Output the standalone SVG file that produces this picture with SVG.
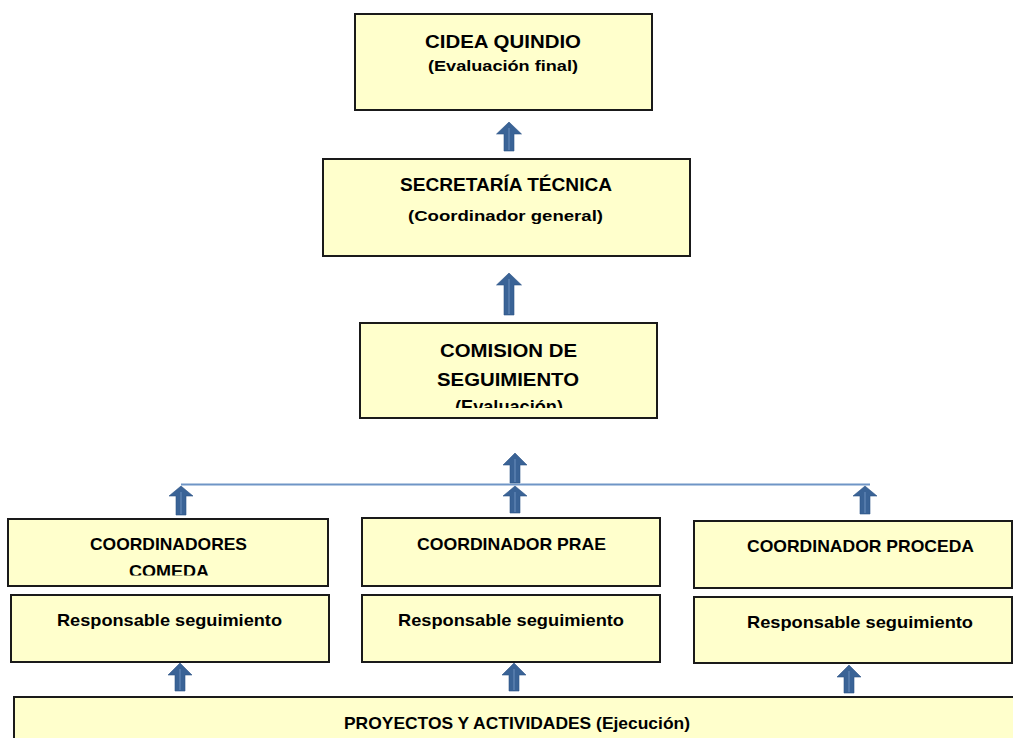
<svg xmlns="http://www.w3.org/2000/svg" width="1013" height="738" viewBox="0 0 1013 738">
<style>
.box{fill:#FFFFCC;stroke:#1a1a1a;stroke-width:2}
.t{font-family:"Liberation Sans",Arial,sans-serif;font-weight:bold;fill:#000;text-anchor:middle}
.arr{fill:#3A6396;stroke:#2E5486;stroke-width:0.6}
.mid{stroke:#7A9CC8;stroke-width:0.8}
.link{stroke:#6F95C6;stroke-width:2;fill:none}
</style>
<defs>
<clipPath id="clipCom"><rect x="360" y="323" width="297" height="85"/></clipPath>
<clipPath id="clipComeda"><rect x="8" y="519" width="320" height="56.5"/></clipPath>
</defs>
<rect width="1013" height="738" fill="#fff"/>
<g id="cidea">
<rect class="box" x="355" y="14" width="297" height="96"/>
<text class="t" x="503" y="48" font-size="17.5" textLength="156" lengthAdjust="spacingAndGlyphs">CIDEA QUINDIO</text>
<text class="t" x="503" y="71" font-size="15.5" textLength="150" lengthAdjust="spacingAndGlyphs">(Evaluación final)</text>
</g>
<g id="secretaria">
<rect class="box" x="323" y="159" width="367" height="97"/>
<text class="t" x="506" y="191" font-size="17.5" textLength="212" lengthAdjust="spacingAndGlyphs">SECRETARÍA TÉCNICA</text>
<text class="t" x="505.5" y="221" font-size="15.5" textLength="195" lengthAdjust="spacingAndGlyphs">(Coordinador general)</text>
</g>
<g id="comision">
<rect class="box" x="360" y="323" width="297" height="95"/>
<g clip-path="url(#clipCom)">
<text class="t" x="508.5" y="357" font-size="18.5" textLength="137" lengthAdjust="spacingAndGlyphs">COMISION DE</text>
<text class="t" x="508" y="386" font-size="18.5" textLength="142" lengthAdjust="spacingAndGlyphs">SEGUIMIENTO</text>
<text class="t" x="509" y="413" font-size="18.5" textLength="108" lengthAdjust="spacingAndGlyphs">(Evaluación)</text>
</g>
</g>
<g id="comeda">
<rect class="box" x="8" y="519" width="320" height="67"/>
<g clip-path="url(#clipComeda)">
<text class="t" x="168.5" y="550" font-size="17" textLength="157" lengthAdjust="spacingAndGlyphs">COORDINADORES</text>
<text class="t" x="169" y="577" font-size="17" textLength="80" lengthAdjust="spacingAndGlyphs">COMEDA</text>
</g>
</g>
<g id="resp-comeda">
<rect class="box" x="11" y="595" width="318" height="67"/>
<text class="t" x="169.5" y="626" font-size="17" textLength="225" lengthAdjust="spacingAndGlyphs">Responsable seguimiento</text>
</g>
<g id="prae">
<rect class="box" x="362" y="518" width="298" height="68"/>
<text class="t" x="511.5" y="550" font-size="17" textLength="189" lengthAdjust="spacingAndGlyphs">COORDINADOR PRAE</text>
</g>
<g id="resp-prae">
<rect class="box" x="362" y="595" width="298" height="67"/>
<text class="t" x="511" y="626" font-size="17" textLength="226" lengthAdjust="spacingAndGlyphs">Responsable seguimiento</text>
</g>
<g id="proceda">
<rect class="box" x="694" y="521" width="318" height="67"/>
<text class="t" x="860.5" y="552" font-size="17" textLength="227" lengthAdjust="spacingAndGlyphs">COORDINADOR PROCEDA</text>
</g>
<g id="resp-proceda">
<rect class="box" x="694" y="597" width="318" height="66"/>
<text class="t" x="860" y="628" font-size="17" textLength="226" lengthAdjust="spacingAndGlyphs">Responsable seguimiento</text>
</g>
<g id="proyectos">
<rect class="box" x="14" y="697" width="1010" height="60"/>
<text class="t" x="517" y="729" font-size="17" textLength="346" lengthAdjust="spacingAndGlyphs">PROYECTOS Y ACTIVIDADES (Ejecución)</text>
</g>
<g id="connectors">
<line class="link" x1="181" y1="484.5" x2="870" y2="484.5"/>
<path class="arr" d="M509,122 L521.5,134 L514,134 L514,151 L504,151 L504,134 L496.5,134 Z"/>
<path class="arr" d="M509,273 L521.5,285 L514,285 L514,315 L504,315 L504,285 L496.5,285 Z"/>
<path class="arr" d="M515,453 L527,465 L520,465 L520,483 L510,483 L510,465 L503,465 Z"/>
<path class="arr" d="M515,486 L527,496 L520,496 L520,513 L510,513 L510,496 L503,496 Z"/>
<path class="arr" d="M181,486 L193,496 L186,496 L186,515 L176,515 L176,496 L169,496 Z"/>
<path class="arr" d="M865,486 L877,496 L870,496 L870,514 L860,514 L860,496 L853,496 Z"/>
<path class="arr" d="M180,663 L192,675 L185,675 L185,691 L175,691 L175,675 L168,675 Z"/>
<path class="arr" d="M514,663 L526,675 L519,675 L519,691 L509,691 L509,675 L502,675 Z"/>
<path class="arr" d="M849,665 L861,677 L854,677 L854,693 L844,693 L844,677 L837,677 Z"/>
<g class="mid">
<line x1="509" y1="128" x2="509" y2="150"/>
<line x1="509" y1="279" x2="509" y2="314"/>
<line x1="515" y1="459" x2="515" y2="482"/>
<line x1="515" y1="492" x2="515" y2="512"/>
<line x1="181" y1="492" x2="181" y2="514"/>
<line x1="865" y1="492" x2="865" y2="513"/>
<line x1="180" y1="669" x2="180" y2="690"/>
<line x1="514" y1="669" x2="514" y2="690"/>
<line x1="849" y1="671" x2="849" y2="692"/>
</g>
</g>
</svg>
